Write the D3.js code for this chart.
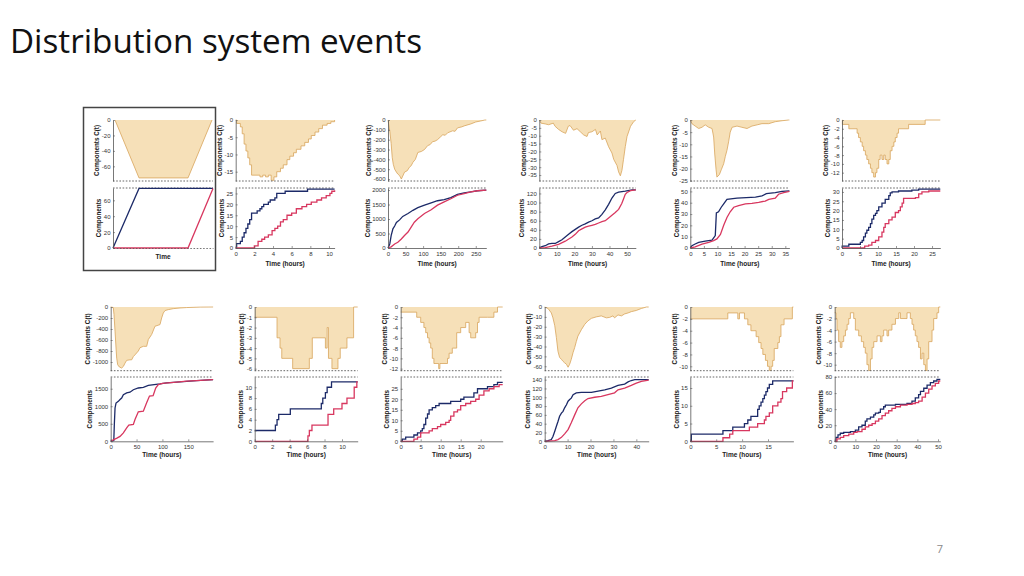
<!DOCTYPE html>
<html><head><meta charset="utf-8">
<script src="https://cdn.jsdelivr.net/npm/d3@7"></script>
<style>body{margin:0;background:#fff;} svg{display:block;}</style>
</head><body>
<svg id="c" width="1024" height="576"></svg>
<script>
// ---------- DATA ----------
const pageTitle = "Distribution system events";
const pageNumber = "7";
const topLabel = "Components C(t)";
const botLabel = "Components";
const timeLabels = ["Time", "Time (hours)"];

// Panel 1 (schematic)
const c1 = [[2,0],[26,-75],[75,-75],[99,0]];
const n1 = [[0,0],[26,75],[100,75]];
const r1 = [[0,0],[75,0],[100,75]];
// Panel 2
const c2 = [[0,0],[0.1,-1],[0.5,-2],[0.7,-4],[0.9,-7],[1.1,-9],[1.3,-11],[1.5,-13],[1.7,-16],[2.6,-16.5],[2.9,-16],[3.2,-16.5],[3.5,-16],[3.8,-17.5],[4.1,-16.5],[4.4,-15],[4.8,-14],[5.1,-13],[5.5,-11.5],[5.8,-10.5],[6.2,-9.5],[6.5,-8.5],[7.0,-7.5],[7.4,-6.5],[7.8,-5.5],[8.1,-4.5],[8.5,-3.5],[8.9,-2.5],[9.3,-1.5],[9.8,-1],[10.2,-0.5],[10.6,0]];
const n2 = [[0,0],[0.1,2],[0.5,3],[0.7,5],[0.9,7],[1.1,9],[1.3,11],[1.5,13],[1.7,16],[2.3,17],[2.6,18],[2.8,19],[3.0,20],[3.5,21],[3.7,22],[4.2,23],[4.4,25],[5.3,26],[7.7,27],[10.6,27]];
const r2 = [[0,0],[2.0,1],[2.4,3],[2.8,4],[3.1,5],[3.5,6],[3.9,8],[4.2,9],[4.5,10],[4.8,12],[5.1,13],[5.5,15],[6.0,16],[6.5,18],[7.1,19],[7.6,20],[8.1,21],[8.7,22],[9.2,23],[9.7,24],[10.1,25],[10.3,26],[10.6,26.5]];
// Panel 3
const c3 = [[0,0],[5,-110],[9,-240],[12,-380],[15,-450],[19,-500],[24,-530],[28,-550],[33,-565],[38,-600],[42,-570],[47,-530],[55,-515],[61,-480],[66,-465],[71,-430],[78,-400],[85,-330],[95,-320],[104,-300],[113,-260],[120,-250],[127,-220],[134,-215],[141,-200],[150,-170],[156,-150],[163,-155],[170,-130],[184,-110],[191,-115],[198,-80],[210,-70],[217,-60],[236,-40],[250,-20],[264,-10],[276,0],[280,0]];
const n3 = [[0,0],[5,140],[9,430],[14,660],[19,760],[24,880],[33,970],[42,1090],[57,1190],[71,1300],[85,1390],[104,1480],[123,1560],[141,1630],[160,1670],[179,1740],[198,1850],[217,1900],[236,1940],[255,1975],[280,2000]];
const r3 = [[0,0],[9,40],[19,140],[28,200],[38,310],[47,430],[57,550],[66,720],[75,890],[85,1010],[104,1190],[123,1320],[141,1480],[160,1590],[179,1700],[198,1820],[217,1880],[236,1940],[255,1975],[280,2000]];
// Panel 4
const c4 = [[0,0],[1,-2],[3.4,-2.5],[5.3,-3],[8,-2],[9,-4],[11,-6],[13,-7.5],[15,-8.5],[16.5,-4],[17.5,-3.5],[19.5,-6.5],[21.5,-5.5],[23.4,-7.5],[25.3,-9.5],[27.2,-10.5],[28,-8],[30,-7.5],[32,-6],[33,-9.5],[34.8,-7],[35.7,-12.5],[37.6,-11.5],[39.5,-17],[41.4,-21],[42.4,-25],[44.3,-29],[45.2,-33],[46.2,-35.5],[47.1,-32],[48,-25],[49,-17],[50,-10.5],[52,-4],[53.8,-1],[55,0]];
const n4 = [[0,0],[1.5,3],[3.4,5],[5.3,9],[7.2,10],[9.1,10],[11,14],[12.9,18],[14.8,24],[16.7,30],[18.6,36],[20.5,41],[22.4,46],[24.3,50],[26.2,53],[28.1,57],[30,60],[31.9,64],[33.8,66],[35.7,74],[37.6,84],[39.5,96],[41.4,110],[43.3,120],[45.2,123],[49,125],[52.9,128],[55,128]];
const r4 = [[0,0],[3.4,1],[7.2,4],[11,8],[14.8,15],[18.6,24],[20.5,30],[22.4,38],[24.3,42],[26.2,46],[28.1,48],[30,50],[31.9,52],[33.8,55],[35.7,58],[37.6,60],[39.5,66],[41.4,72],[43.3,78],[45.2,85],[47,98],[48,108],[49,118],[50,122],[52,126],[55,128]];
// Panel 5
const c5 = [[0,0],[0.6,-1.5],[1.8,-2.5],[3.1,-3.5],[4.3,-3],[5.5,-2],[6.8,-3],[8,-3.5],[8.6,-7],[9,-14],[9.5,-20.5],[9.8,-23.5],[10.7,-22.5],[11.4,-20.5],[12.3,-18],[12.9,-15],[13.5,-12.5],[14.1,-9],[14.7,-5],[15.4,-3],[17.2,-2.5],[19,-3],[20.9,-3.5],[22.7,-2.5],[24.6,-2],[26.4,-1.5],[28.9,-1.5],[31.3,-0.7],[33.8,-0.3],[36.2,0],[36.5,0]];
const n5 = [[0,0],[0.6,2],[1.8,3.5],[3.1,5],[5.5,6],[8,7],[8.6,9],[9.2,11],[9.6,31],[10.4,32],[11.4,36],[12.3,39],[13.5,43],[17.2,44],[24,45],[26.4,46],[28,48],[31.3,49],[33.8,50],[36.5,50.5]];
const r5 = [[0,0],[1.8,1],[4.3,3.5],[6.8,5],[8.6,6.5],[9.8,8],[11.1,12],[12.3,20],[13.5,27],[14.7,32],[16,36],[17.8,37.5],[20.3,39],[22.7,39.5],[25.2,40.3],[27.6,41.5],[28.9,43],[31.3,44],[32.5,47.5],[34.4,49],[36.5,50]];
// Panel 6
const c6 = [[0,0],[0.1,-1],[1.9,-2],[4.2,-3],[4.6,-4],[5.1,-5],[5.6,-6],[6,-7],[6.5,-8],[6.9,-9],[7.4,-10],[7.9,-11],[8.3,-12],[8.8,-13],[9.3,-12],[9.7,-11],[10.2,-9],[10.6,-8],[11.1,-9],[11.6,-8],[12,-9],[12.5,-10],[13,-9],[13.4,-7],[13.9,-6],[14.4,-5],[14.8,-4],[15.3,-3],[15.7,-2],[18.5,-1],[23.1,0],[27.3,0]];
const n6 = [[0,0],[0.05,1],[1.9,2],[5.1,3],[5.6,4],[6,6],[6.5,8],[6.9,9.5],[7.4,11],[7.9,13],[8.3,15.5],[8.8,17.5],[9.3,18.5],[9.7,20],[10.2,22],[11.1,24],[12,26],[13,28],[13.4,29.5],[13.9,30],[15.7,30.5],[19.4,31],[21.3,31.5],[27.3,31.5]];
const r6 = [[0,0],[6.3,1],[7.4,1.5],[8.3,3],[9.3,4],[10.2,6],[11.1,8.5],[11.6,11],[12,13],[13,15],[13.9,16.5],[14.8,19],[15.7,20],[16.2,22],[16.7,24],[17.1,26.5],[20.4,27],[21.3,29],[22.2,30],[24.1,30.5],[27.3,30.5]];
// Panel 7
const c7 = [[0,0],[5,-10],[6.4,-140],[8.4,-440],[10.3,-745],[11.6,-930],[13.5,-1050],[16.7,-1090],[21.2,-1110],[24.5,-1080],[27.7,-1020],[30.9,-970],[37.3,-960],[40.6,-960],[43.8,-900],[47,-870],[53.4,-800],[56.7,-740],[63.1,-715],[69.5,-715],[72.8,-590],[79.2,-500],[85.6,-350],[95.3,-320],[98.5,-200],[101.7,-110],[105,-65],[111.4,-48],[121,-30],[134,-18],[147,-10],[173,-2],[198,0]];
const n7 = [[0,0],[6,20],[7,475],[8.4,950],[10.3,1090],[14.8,1140],[18,1190],[21.2,1235],[24.5,1330],[30.9,1380],[37.3,1400],[43.8,1470],[53.4,1520],[63.1,1540],[72.8,1595],[95.3,1635],[108,1665],[127.5,1690],[146.8,1710],[166,1730],[198,1757]];
const r7 = [[0,0],[5,40],[12,90],[18,140],[24.5,240],[30.9,380],[35,460],[43.8,480],[47,620],[53.4,840],[63.1,860],[69.5,1100],[75,1290],[82,1300],[87,1520],[92,1620],[100,1650],[127.5,1690],[146.8,1715],[166,1730],[198,1757]];
// Panel 8
const c8 = [[0,-1],[2.56,-3],[2.9,-4],[3.1,-5],[4.35,-6],[6.26,-5],[6.6,-3],[8.1,-4],[8.3,-2],[8.45,-5],[8.85,-6],[9.54,-5],[9.8,-4],[10.57,-3],[11.33,0],[11.8,0]];
const n8 = [[0,2],[2.37,3],[2.56,4],[2.75,5],[4.08,6],[7.63,7],[7.8,8],[8.1,9],[8.3,10],[8.8,11],[11.8,11]];
const r8 = [[0,0],[6.1,1],[6.26,2],[6.56,3],[8.4,5],[9.05,6],[10,7],[10.57,8],[11.4,10],[11.7,11],[11.8,11]];
// Panel 9
const c9 = [[0,-1],[4,-2],[5,-3],[5.8,-4],[6.25,-5],[6.7,-6],[7.1,-7],[7.5,-8],[7.9,-10],[8.3,-11],[9.5,-12],[9.8,-11],[11.7,-10],[12.1,-9],[12.9,-8],[14,-5],[15,-4],[16.25,-3],[17.1,-5],[17.5,-6],[18.75,-5],[19.2,-3],[19.6,-2],[21.7,-2],[23.3,-1],[24.2,0],[25.5,0]];
const n9 = [[0,0],[0.4,1],[1.25,2],[3.3,3],[4.2,4],[5,5],[5.4,6],[5.8,8],[6.25,11],[6.7,13],[7.1,15],[7.9,16],[8.75,17],[9.6,18],[12.5,19],[15,20],[15.8,21],[18.3,23],[19.2,25],[21.7,26],[23.3,27],[24.2,28],[25.5,28]];
const r9 = [[0,0],[3.3,1],[4.2,2],[5,4],[7.1,5],[7.9,6],[9.2,7],[10,8],[11.25,9],[12.1,10],[12.5,12],[13.3,14],[14.2,15],[15,17],[16.25,18],[17.5,19],[18.75,20],[19.6,22],[20.8,24],[22.1,25],[23.3,26],[24.6,27],[25.5,27]];
// Panel 10
const c10 = [[0,0],[1.45,-1.5],[2.9,-6],[3.6,-11],[4.4,-19],[5.1,-31],[5.8,-45],[6.5,-51],[7.3,-53],[8,-55],[8.7,-56.5],[9.5,-58],[10.2,-61],[10.9,-58],[11.6,-53],[12.4,-46],[13.1,-41],[13.8,-35],[14.5,-29.5],[16,-23],[17.5,-17.5],[18.9,-14],[20.4,-11.5],[22.5,-10],[24.7,-9],[26.9,-11],[28.4,-10.5],[29.8,-9],[30.5,-11],[32,-8],[33.5,-9],[34.9,-7],[36.4,-6],[37.8,-4.7],[40,-3.5],[42.2,-1.5],[44.4,0],[45.4,0]];
const n10 = [[0,0],[1.45,1.5],[2.9,4],[3.6,11],[4.4,23],[5.1,34],[5.8,45],[6.5,57],[7.3,64],[8,68],[8.7,76],[9.5,83],[10.2,91],[10.9,95],[11.6,98],[12.4,106],[13.8,110],[16,111],[20.4,111],[23.3,114],[26.2,117],[29.1,121],[32,127],[34.9,130],[36.4,135],[37.8,138],[39.3,140],[45.4,140]];
const r10 = [[0,0],[4.4,1.5],[5.8,4],[7.3,9],[8.7,17],[10.2,26.5],[11.6,42],[13.1,60],[14.5,76],[16,85],[17.5,92],[18.9,97],[21.8,100],[24.7,102],[27.6,106],[30.5,110],[32,117],[34.9,121],[37.8,127],[40,132],[42.2,136],[45.4,139]];
// Panel 11
const c11 = [[0,-2],[7.24,-1],[9.17,-2],[9.5,-1],[10.45,-2],[11.1,-3],[11.7,-4],[12.7,-5],[13.2,-6],[13.65,-7],[14,-8],[14.5,-9],[14.9,-10],[15.25,-10.7],[15.6,-10],[15.9,-9],[16.2,-7],[16.9,-6],[17.2,-5],[17.5,-3],[18.1,-2],[19.7,0],[19.9,0]];
const n11 = [[0,0],[0.2,2],[6.3,3],[8.2,4],[10.45,5],[11.1,6],[11.7,7],[13,9],[13.3,10],[13.65,11],[14,12],[14.3,13],[14.6,14],[14.9,15],[15.25,16],[15.9,17],[19.9,17]];
const r11 = [[0,0],[6.3,1],[7.6,2],[8.2,3],[11.4,4],[13,5],[14.3,6],[14.6,7],[15.25,8],[15.9,10],[16.9,11],[17.5,12],[17.8,14],[18.6,15],[19.7,17],[19.9,17]];
// Panel 12
const c12 = [[0,-1],[0.65,-2],[1.1,-4],[1.9,-6],[2.7,-7],[3.5,-6],[4.35,-5],[5.2,-4],[6,-3],[6.8,-2],[7.6,-1],[9.2,-2],[10,-4],[11.6,-5],[12.9,-6],[14,-7],[14.8,-8],[15.6,-10],[16.45,-11],[17.3,-9],[18.1,-7],[18.9,-6],[20.5,-5],[22.1,-6],[22.9,-5],[23.7,-4],[25.3,-5],[26.1,-4],[27.7,-3],[29.4,-2],[31,-1],[31.8,-2],[35,-1],[36.6,-2],[37.4,-3],[38.2,-4],[39,-5],[39.8,-6],[40.6,-7],[41.5,-9],[42.3,-8],[43.1,-10],[43.9,-11],[44.7,-9],[45.5,-6],[47.1,-4],[47.9,-2],[49.5,-1],[50.3,0],[51.1,0]];
const n12 = [[0,0],[0.65,5],[1.6,8],[2.7,10],[4.35,11],[7.6,12],[10,14],[11.6,18],[13.2,20],[14.8,25],[15.6,28],[17.3,30],[18.9,33],[19.7,35],[21.3,36],[22.1,40],[23.7,43],[24.5,45],[29.4,46],[35,47],[37.4,50],[39,54],[40.6,58],[41.5,62],[43.1,66],[44.7,70],[46.3,73],[47.9,75],[49.5,77],[51.1,77]];
const r12 = [[0,0],[1.1,3],[2.7,5],[4.35,7],[6.8,9],[9.2,11],[10.8,12],[13.2,15],[14.8,18],[16.45,20],[18.1,22],[19.7,25],[21.3,28],[22.9,32],[24.5,35],[26.1,38],[27.7,41],[29.4,43],[31.8,45],[35,46],[37.4,47],[39,48],[40.6,50],[42.3,55],[43.9,60],[45.5,65],[47.1,69],[48.7,72],[50.3,75],[51.1,75]];

// Tick values per panel
const topTicks = [[0,-20,-40,-60],[0,-5,-10,-15],[0,-100,-200,-300,-400,-500,-600],[0,-5,-10,-15,-20,-25,-30,-35],[0,-5,-10,-15,-20,-25],[0,-2,-4,-6,-8,-10,-12],
                  [0,-200,-400,-600,-800,-1000],[0,-1,-2,-3,-4,-5,-6],[0,-2,-4,-6,-8,-10,-12],[0,-10,-20,-30,-40,-50,-60],[0,-2,-4,-6,-8,-10],[0,-2,-4,-6,-8,-10]];
const botTicks = [[0,20,40,60],[0,5,10,15,20,25],[0,500,1000,1500,2000],[0,20,40,60,80,100,120],[0,10,20,30,40,50],[0,5,10,15,20,25,30],
                  [0,500,1000,1500],[0,2,4,6,8,10],[0,5,10,15,20,25],[0,20,40,60,80,100,120,140],[0,5,10,15],[0,20,40,60,80]];
const timeTicks = [[],[0,2,4,6,8,10],[0,50,100,150,200,250],[0,10,20,30,40,50],[0,5,10,15,20,25,30,35],[0,5,10,15,20,25],
                   [0,50,100,150],[0,2,4,6,8,10],[0,5,10,15,20],[0,10,20,30,40],[0,5,10,15],[0,10,20,30,40,50]];
const timeMax = [100,10.6,280,55,36.5,27.3,198,11.8,25.5,45.4,19.9,51.1];
const topMin = [-79,-17.7,-620,-38.8,-25.1,-13.9,-1158,-6.2,-12.4,-64.5,-10.74,-11.04];
const botMax = [75.5,27.5,2070,132,53,32.1,1834,11.9,30.6,146,18.1,80];
const cSeries = [c1,c2,c3,c4,c5,c6,c7,c8,c9,c10,c11,c12];
const nSeries = [n1,n2,n3,n4,n5,n6,n7,n8,n9,n10,n11,n12];
const rSeries = [r1,r2,r3,r4,r5,r6,r7,r8,r9,r10,r11,r12];
const stepped = [false,true,false,false,false,true,false,true,true,false,true,true];

// ---------- LAYOUT ----------
const panelX = [[113,213],[235.7,334.6],[388,486.3],[539.3,635.8],[690.3,789.4],[842,940.3],
                [110.7,213.1],[254.7,357.7],[400.7,502.7],[544.7,648.7],[690.3,793.4],[834.7,940.3]];
const rowGeom = [
  {topY0:120, topY1:181, botY0:248, botY1:188, titleY:265.5},
  {topY0:307, topY1:370.7, botY0:441.3, botY1:377, titleY:456.5}
];
const FILL = "#f6e0b8", EDGE = "#d8a45c", NAVY = "#1c2a68", RED = "#d8375f";
const FONT = "'Liberation Sans', Arial, sans-serif";

const svg = d3.select("#c");
svg.append("text").attr("x",10).attr("y",53).attr("font-family","'Open Sans', sans-serif")
  .attr("font-size",32).attr("fill","#111").attr("textLength",412).attr("lengthAdjust","spacingAndGlyphs").text(pageTitle);
svg.append("text").attr("x",940).attr("y",553).attr("font-family","'Open Sans', sans-serif")
  .attr("font-size",11).attr("fill","#8a8a8a").attr("text-anchor","middle").text(pageNumber);
svg.append("rect").attr("x",83.5).attr("y",107.5).attr("width",132).attr("height",163)
  .attr("fill","none").attr("stroke","#444").attr("stroke-width",1.5);

function styleAxis(g){
  g.selectAll("text").attr("font-size",6).attr("font-family",FONT).attr("fill","#333");
  g.selectAll(".domain").attr("stroke","#555").attr("stroke-width",0.8);
  g.selectAll(".tick line").attr("stroke","#555").attr("stroke-width",0.6);
}
function yTitle(g, label, x0, yMid){
  const w = d3.max(g.selectAll("text").nodes(), n => n.getComputedTextLength()) || 0;
  const cx = x0 - 2.5 - w - 4 + 1.6;
  svg.append("text").attr("transform",`translate(${cx},${yMid}) rotate(-90)`)
    .attr("text-anchor","middle").attr("font-family",FONT).attr("font-weight","bold")
    .attr("font-size",6.3).attr("fill","#222").text(label);
}

for (let i = 0; i < 12; i++) {
  const G = rowGeom[i < 6 ? 0 : 1];
  const [x0, x1] = panelX[i];
  const x = d3.scaleLinear().domain([0, timeMax[i]]).range([x0, x1]);
  const yT = d3.scaleLinear().domain([topMin[i], 0]).range([G.topY1, G.topY0]);
  const yB = d3.scaleLinear().domain([0, botMax[i]]).range([G.botY0, G.botY1]);
  const curve = stepped[i] ? d3.curveStepAfter : d3.curveLinear;

  // top area C(t)
  svg.append("path").datum(cSeries[i])
    .attr("d", d3.area().x(d => x(d[0])).y0(yT(0)).y1(d => yT(d[1])).curve(curve))
    .attr("fill", FILL);
  svg.append("path").datum(cSeries[i])
    .attr("d", d3.line().x(d => x(d[0])).y(d => yT(d[1])).curve(curve))
    .attr("fill","none").attr("stroke", EDGE).attr("stroke-width", 0.8);

  // top chart axes
  svg.append("line").attr("x1",x0).attr("x2",x1).attr("y1",G.topY1).attr("y2",G.topY1)
    .attr("stroke","#555").attr("stroke-width",0.9).attr("stroke-dasharray","1.6,1.6");
  const gT = svg.append("g").attr("transform",`translate(${x0},0)`)
    .call(d3.axisLeft(yT).tickValues(topTicks[i]).tickSizeInner(-2).tickSizeOuter(0).tickPadding(2.5).tickFormat(d => String(d)));
  styleAxis(gT);
  yTitle(gT, topLabel, x0, (G.topY0 + G.topY1) / 2);

  // bottom chart
  svg.append("line").attr("x1",x0).attr("x2",x1).attr("y1",G.botY1).attr("y2",G.botY1)
    .attr("stroke","#555").attr("stroke-width",0.9).attr("stroke-dasharray","1.6,1.6");
  const line = d3.line().x(d => x(d[0])).y(d => yB(d[1])).curve(curve);
  svg.append("path").datum(nSeries[i]).attr("d", line)
    .attr("fill","none").attr("stroke", NAVY).attr("stroke-width", 1.3);
  svg.append("path").datum(rSeries[i]).attr("d", line)
    .attr("fill","none").attr("stroke", RED).attr("stroke-width", 1.3);

  const gB = svg.append("g").attr("transform",`translate(${x0},0)`)
    .call(d3.axisLeft(yB).tickValues(botTicks[i]).tickSizeInner(-2).tickSizeOuter(0).tickPadding(2.5).tickFormat(d => String(d)));
  styleAxis(gB);
  yTitle(gB, botLabel, x0, (G.botY0 + G.botY1) / 2);

  const gX = svg.append("g").attr("transform",`translate(0,${G.botY0})`)
    .call(d3.axisBottom(x).tickValues(timeTicks[i]).tickSizeInner(-2).tickSizeOuter(0).tickPadding(3.5).tickFormat(d => String(d)));
  styleAxis(gX);
  if (i === 0) gX.select(".domain").attr("stroke-dasharray","1.6,1.6");

  svg.append("text").attr("x",(x0 + x1) / 2).attr("y", G.titleY - (i === 0 ? 7 : 0))
    .attr("text-anchor","middle").attr("font-family",FONT).attr("font-weight","bold")
    .attr("font-size",6.5).attr("fill","#222").text(i === 0 ? timeLabels[0] : timeLabels[1]);
}
</script>
</body></html>
